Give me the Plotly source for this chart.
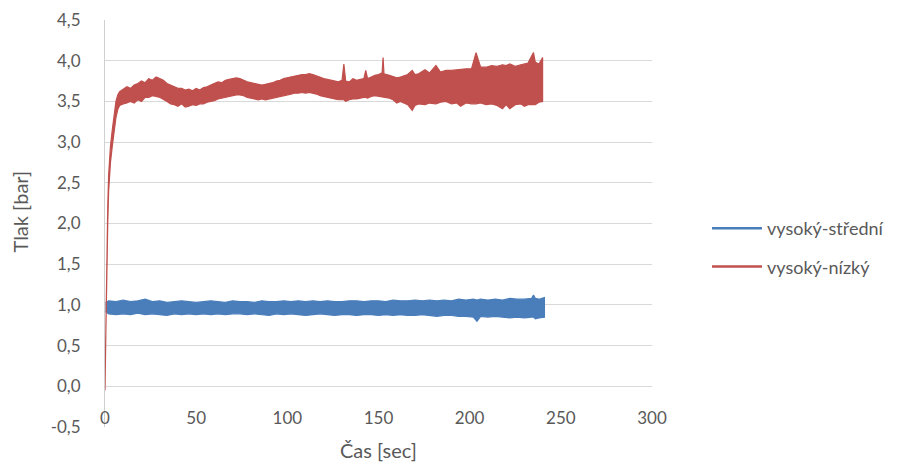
import plotly.graph_objects as go

# ---- data ----
# red series "vysoký-nízký": time [s], upper and lower edge of the noisy trace [bar]
red_t = [0, 0.5, 1, 1.5, 2, 3, 4, 5, 6, 7, 8, 10, 12, 14, 16, 18, 20, 22, 24, 26, 28, 30,
         32, 34, 36, 38, 40, 42, 44, 46, 48, 50, 52, 54, 56, 58, 60, 62, 64, 66, 68, 70,
         72, 74, 76, 78, 80, 82, 84, 86, 88, 90, 92, 94, 96, 98, 100, 102, 104, 106, 108,
         110, 112, 114, 116, 118, 120, 122, 124, 126, 128, 130, 131, 132, 134, 136, 138,
         140, 142, 143, 144, 146, 148, 150, 152, 152.5, 153, 156, 158, 160, 162, 164, 166,
         168.5, 170, 172, 175.5, 178, 181.5, 184, 187, 190, 193, 195, 198, 201, 203.5, 206,
         209, 212, 215, 218, 220, 222, 225, 228, 230, 232, 235, 236, 238, 240]
red_hi = [0.00, 0.90, 1.70, 2.20, 2.60, 2.95, 3.15, 3.35, 3.50, 3.58, 3.62, 3.65, 3.68, 3.66,
          3.70, 3.72, 3.75, 3.73, 3.78, 3.76, 3.80, 3.78, 3.76, 3.72, 3.70, 3.68, 3.66, 3.66,
          3.64, 3.65, 3.63, 3.66, 3.64, 3.67, 3.68, 3.70, 3.72, 3.74, 3.73, 3.76, 3.77, 3.78,
          3.79, 3.78, 3.76, 3.74, 3.73, 3.72, 3.71, 3.70, 3.71, 3.72, 3.73, 3.75, 3.76, 3.78,
          3.79, 3.80, 3.81, 3.82, 3.83, 3.83, 3.84, 3.83, 3.81, 3.80, 3.78, 3.77, 3.76, 3.75,
          3.74, 3.76, 3.96, 3.75, 3.74, 3.78, 3.76, 3.77, 3.78, 3.88, 3.78, 3.80, 3.82, 3.83,
          3.85, 4.04, 3.84, 3.82, 3.80, 3.79, 3.80, 3.82, 3.83, 3.88, 3.83, 3.84, 3.89, 3.85,
          3.94, 3.86, 3.88, 3.88, 3.89, 3.89, 3.90, 3.90, 4.10, 3.92, 3.92, 3.94, 3.93, 3.95,
          3.94, 3.96, 3.93, 3.95, 3.96, 3.97, 4.10, 3.98, 3.96, 4.04]
red_lo = [-0.05, 0.70, 1.50, 2.00, 2.40, 2.75, 2.95, 3.15, 3.30, 3.40, 3.45, 3.47, 3.48, 3.50,
          3.48, 3.52, 3.50, 3.55, 3.55, 3.57, 3.56, 3.55, 3.52, 3.50, 3.47, 3.46, 3.44, 3.47,
          3.43, 3.44, 3.46, 3.45, 3.47, 3.47, 3.49, 3.50, 3.51, 3.53, 3.54, 3.55, 3.56, 3.57,
          3.58, 3.58, 3.57, 3.55, 3.54, 3.53, 3.52, 3.53, 3.52, 3.53, 3.54, 3.55, 3.56, 3.57,
          3.58, 3.59, 3.60, 3.60, 3.61, 3.60, 3.61, 3.60, 3.59, 3.57, 3.56, 3.55, 3.54, 3.53,
          3.52, 3.52, 3.52, 3.50, 3.52, 3.53, 3.53, 3.54, 3.55, 3.55, 3.54, 3.56, 3.57, 3.56,
          3.56, 3.56, 3.55, 3.54, 3.52, 3.48, 3.50, 3.48, 3.46, 3.39, 3.45, 3.47, 3.46, 3.48,
          3.47, 3.49, 3.50, 3.47, 3.48, 3.44, 3.48, 3.47, 3.47, 3.48, 3.46, 3.47, 3.45, 3.41,
          3.46, 3.41, 3.46, 3.47, 3.44, 3.46, 3.46, 3.46, 3.49, 3.50]

# blue series "vysoký-střední": time [s], upper and lower edge of the noisy trace [bar]
blue_t = [0.3, 2, 6, 10, 14, 18, 22, 26, 30, 34, 38, 42, 46, 50, 54, 58, 62, 66, 70, 74, 78,
          82, 86, 90, 94, 98, 102, 106, 110, 114, 118, 122, 126, 130, 134, 138, 142, 146,
          150, 154, 158, 162, 166, 170, 174, 178, 182, 186, 190, 194, 198, 202, 204, 206,
          210, 214, 218, 222, 226, 230, 234, 235, 236, 238, 241]
blue_hi = [1.03, 1.05, 1.04, 1.06, 1.04, 1.05, 1.07, 1.04, 1.05, 1.03, 1.04, 1.05, 1.04,
           1.03, 1.04, 1.05, 1.04, 1.03, 1.05, 1.04, 1.04, 1.03, 1.05, 1.04, 1.04, 1.05,
           1.04, 1.05, 1.04, 1.05, 1.04, 1.05, 1.04, 1.04, 1.05, 1.05, 1.04, 1.05, 1.05,
           1.04, 1.06, 1.05, 1.05, 1.06, 1.05, 1.06, 1.05, 1.06, 1.05, 1.07, 1.06, 1.07,
           1.06, 1.07, 1.06, 1.07, 1.06, 1.08, 1.07, 1.07, 1.08, 1.12, 1.08, 1.07, 1.09]
blue_lo = [0.92, 0.89, 0.88, 0.89, 0.88, 0.90, 0.88, 0.89, 0.88, 0.87, 0.89, 0.88, 0.89,
           0.88, 0.89, 0.88, 0.89, 0.88, 0.89, 0.89, 0.88, 0.89, 0.88, 0.87, 0.89, 0.88,
           0.89, 0.88, 0.87, 0.88, 0.89, 0.88, 0.87, 0.88, 0.88, 0.87, 0.88, 0.88, 0.87,
           0.88, 0.87, 0.88, 0.87, 0.87, 0.88, 0.87, 0.86, 0.87, 0.87, 0.86, 0.86, 0.85,
           0.80, 0.86, 0.85, 0.86, 0.85, 0.84, 0.85, 0.84, 0.85, 0.85, 0.83, 0.84, 0.85]

series_names = ["vysoký-střední", "vysoký-nízký"]
y_ticks = [-0.5, 0.0, 0.5, 1.0, 1.5, 2.0, 2.5, 3.0, 3.5, 4.0, 4.5]
y_tick_labels = ["-0,5", "0,0", "0,5", "1,0", "1,5", "2,0", "2,5", "3,0", "3,5", "4,0", "4,5"]
x_ticks = [0, 50, 100, 150, 200, 250, 300]

BLUE = "#4a7ebb"
RED = "#c0504d"
GREY = "#595959"
FONT = "Lato"

fig = go.Figure()

def band(t, hi, lo, color):
    return go.Scatter(
        x=list(t) + list(t)[::-1],
        y=list(hi) + list(lo)[::-1],
        fill="toself", fillcolor=color, mode="lines",
        line=dict(color=color, width=1.2),
        showlegend=False, hoverinfo="skip",
    )

fig.add_trace(band(blue_t, blue_hi, blue_lo, BLUE))
fig.add_trace(band(red_t, red_hi, red_lo, RED))

# legend entries
fig.add_trace(go.Scatter(x=[None], y=[None], mode="lines", name=series_names[0],
                         line=dict(color=BLUE, width=2.5), legendgroup="a"))
fig.add_trace(go.Scatter(x=[None], y=[None], mode="lines", name=series_names[1],
                         line=dict(color=RED, width=2.5), legendgroup="b"))

fig.update_layout(
    width=917, height=466,
    margin=dict(l=105, r=265, t=20, b=39),
    paper_bgcolor="white", plot_bgcolor="white",
    font=dict(family=FONT, size=17, color=GREY),
    showlegend=True,
    legend=dict(x=(707 - 105) / 547, xanchor="left", y=1 - (210 - 20) / 407, yanchor="top",
                font=dict(family=FONT, size=18, color=GREY),
                itemwidth=50, tracegroupgap=12, bgcolor="rgba(0,0,0,0)"),
    xaxis=dict(range=[0, 300], tickvals=x_ticks, showgrid=False, zeroline=False,
               showline=False, ticks="", anchor="free", position=(427 - 406) / 407,
               automargin=False,
               tickfont=dict(family=FONT, size=17, color=GREY)),
    yaxis=dict(range=[-0.5, 4.5], tickvals=y_ticks, ticktext=y_tick_labels,
               showgrid=True, gridcolor="#d9d9d9", gridwidth=1, zeroline=False,
               showline=True, linecolor="#d0d0d0", linewidth=1, automargin=False,
               ticks="outside", ticklen=20, tickcolor="rgba(0,0,0,0)",
               tickfont=dict(family=FONT, size=17, color=GREY)),
    annotations=[
        dict(text="Tlak [bar]", xref="paper", yref="paper", x=-0.155, y=0.53,
             xanchor="center", yanchor="middle", textangle=-90, showarrow=False,
             font=dict(family=FONT, size=20, color=GREY)),
        dict(text="Čas [sec]", xref="paper", yref="paper", x=0.5, y=-0.057,
             xanchor="center", yanchor="middle", showarrow=False,
             font=dict(family=FONT, size=20, color=GREY)),
    ],
)

fig.write_html(
    "out.html",
    config={"displayModeBar": False},
    post_script="document.body.style.margin='0';document.body.style.overflow='hidden';",
)
